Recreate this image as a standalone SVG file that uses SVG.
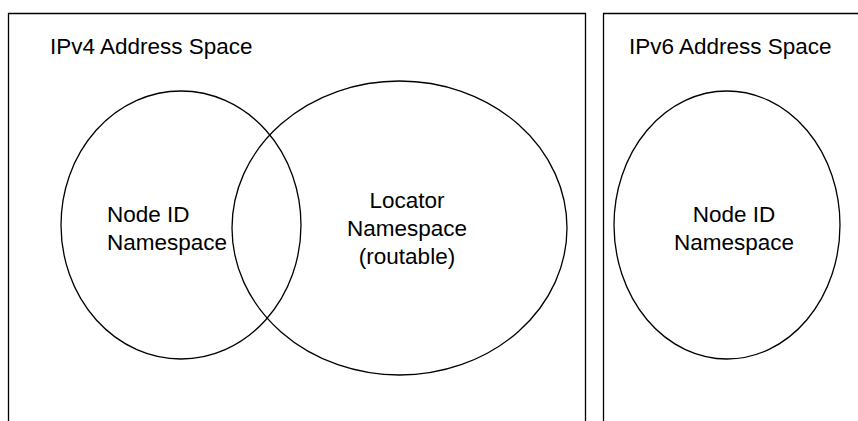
<svg xmlns="http://www.w3.org/2000/svg" width="858" height="421" viewBox="0 0 858 421">
  <style>
    .frame { fill: none; stroke: #000; stroke-width: 1.3; }
    .ns { fill: none; stroke: #000; stroke-width: 1.3; }
    .lbl { font-family: "Liberation Sans", Arial, sans-serif; font-size: 22.5px; fill: #000; }
    .c { text-anchor: middle; }
  </style>
  <rect width="858" height="421" fill="#fff"/>

  <g id="ipv4-space">
    <path class="frame" d="M8.5,430 V13.5 H585.5 V430"/>
    <text class="lbl" x="50" y="54">IPv4 Address Space</text>
  </g>

  <g id="ipv6-space">
    <path class="frame" d="M603.5,430 V13.5 H870"/>
    <text class="lbl" x="629" y="54">IPv6 Address Space</text>
  </g>

  <g id="ipv4-node-id">
    <ellipse class="ns" cx="181" cy="225" rx="120" ry="134"/>
    <text class="lbl" x="107" y="222">Node ID</text>
    <text class="lbl" x="107" y="250">Namespace</text>
  </g>

  <g id="locator">
    <ellipse class="ns" cx="399.5" cy="228" rx="167.5" ry="147"/>
    <text class="lbl c" x="407" y="208">Locator</text>
    <text class="lbl c" x="407" y="236">Namespace</text>
    <text class="lbl c" x="407" y="264">(routable)</text>
  </g>

  <g id="ipv6-node-id">
    <ellipse class="ns" cx="727" cy="225" rx="113" ry="134"/>
    <text class="lbl c" x="734" y="222">Node ID</text>
    <text class="lbl c" x="734" y="250">Namespace</text>
  </g>

  <g id="connectors"/>
</svg>
